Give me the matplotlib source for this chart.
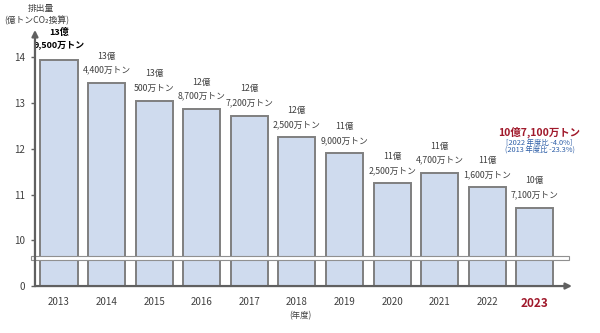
import matplotlib
matplotlib.use("Agg")
import matplotlib.pyplot as plt
from matplotlib.patches import Rectangle

plt.rcParams['font.family'] = ['Noto Sans CJK JP', 'DejaVu Sans']

# données (億トンCO2)
annees = ["2013", "2014", "2015", "2016", "2017", "2018", "2019", "2020", "2021", "2022", "2023"]
emissions = [13.95, 13.44, 13.05, 12.87, 12.72, 12.25, 11.90, 11.25, 11.47, 11.16, 10.71]
etiquettesOku = ["13億", "13億", "13億", "12億", "12億", "12億", "11億", "11億", "11億", "11億", "10億"]
etiquettesMan = ["9,500万トン", "4,400万トン", "500万トン", "8,700万トン", "7,200万トン", "2,500万トン",
                 "9,000万トン", "2,500万トン", "4,700万トン", "1,600万トン", "7,100万トン"]
yTicksVal = [0, 10, 11, 12, 13, 14]


def echelle(v):
	# axe coupé : 0 -> 0, 10 -> 1, 14 -> 5
	if v >= 10:
		return v - 9
	return v / 10


gris = "#404040"
rouge = "#a0192b"
bleu = "#2e5fa8"

fig = plt.figure(figsize=(6, 3.33), dpi=100)
ax = fig.add_axes([0.0583, 0.141, 0.895, 0.769])

x = list(range(len(annees)))
hauteurs = [echelle(v) for v in emissions]
ax.bar(x, hauteurs, width=0.78, color="#cfdbee", edgecolor="#7f7f7f", linewidth=1.4, zorder=2)

ax.set_xlim(-0.504, 10.78)
ax.set_ylim(0, 5.6)

for i in range(len(annees)):
	h = hauteurs[i]
	if i == 0:
		ax.text(i, h + 0.32, etiquettesMan[i], ha="center", va="center", fontsize=6.5, fontweight="bold", color="black")
		ax.text(i, h + 0.60, etiquettesOku[i], ha="center", va="center", fontsize=6.5, fontweight="bold", color="black")
	else:
		ax.text(i, h + 0.28, etiquettesMan[i], ha="center", va="center", fontsize=6.3, color=gris)
		ax.text(i, h + 0.59, etiquettesOku[i], ha="center", va="center", fontsize=6.3, color=gris)

# annotation 2023
ax.text(10.1, echelle(12.37), "10億7,100万トン", ha="center", va="center", fontsize=7.5, fontweight="bold", color=rouge)
ax.text(10.1, echelle(12.13), "[2022 年度比 -4.0%]", ha="center", va="center", fontsize=5.3, color=bleu)
ax.text(10.1, echelle(11.97), "(2013 年度比 -23.3%)", ha="center", va="center", fontsize=5.3, color=bleu)

# bande de coupure
ax.add_patch(Rectangle((-0.59, 0.56), 11.3, 0.09, facecolor="white", edgecolor="#909090",
	linewidth=0.8, zorder=3, clip_on=False))

# axes
for cote in ["top", "right", "left", "bottom"]:
	ax.spines[cote].set_visible(False)
ax.annotate("", xy=(10.78, 0), xytext=(-0.504, 0), xycoords="data",
	arrowprops=dict(arrowstyle="-|>", color="#606060", lw=1.6, mutation_scale=9, shrinkA=0, shrinkB=0), zorder=4)
ax.annotate("", xy=(-0.504, 5.6), xytext=(-0.504, 0), xycoords="data",
	arrowprops=dict(arrowstyle="-|>", color="#606060", lw=1.6, mutation_scale=9, shrinkA=0, shrinkB=0), zorder=4)

ax.set_yticks([echelle(v) for v in yTicksVal])
ax.set_yticklabels([str(v) for v in yTicksVal], fontsize=7, color=gris)
ax.tick_params(axis="y", length=3, color="#606060", width=1, pad=4)
ax.set_xticks(x)
ax.set_xticklabels(annees, fontsize=7, color=gris)
ax.tick_params(axis="x", length=0, pad=8)
lab = ax.get_xticklabels()[-1]
lab.set_color(rouge)
lab.set_fontweight("bold")
lab.set_fontsize(8.5)

fig.text(0.5, 0.052, "(年度)", ha="center", va="center", fontsize=6, color=gris)
fig.text(0.068, 0.975, "排出量", ha="center", va="center", fontsize=6.3, color=gris)
fig.text(0.062, 0.94, "(億トンCO₂換算)", ha="center", va="center", fontsize=6.3, color=gris)

fig.savefig("out.png", dpi=100)
